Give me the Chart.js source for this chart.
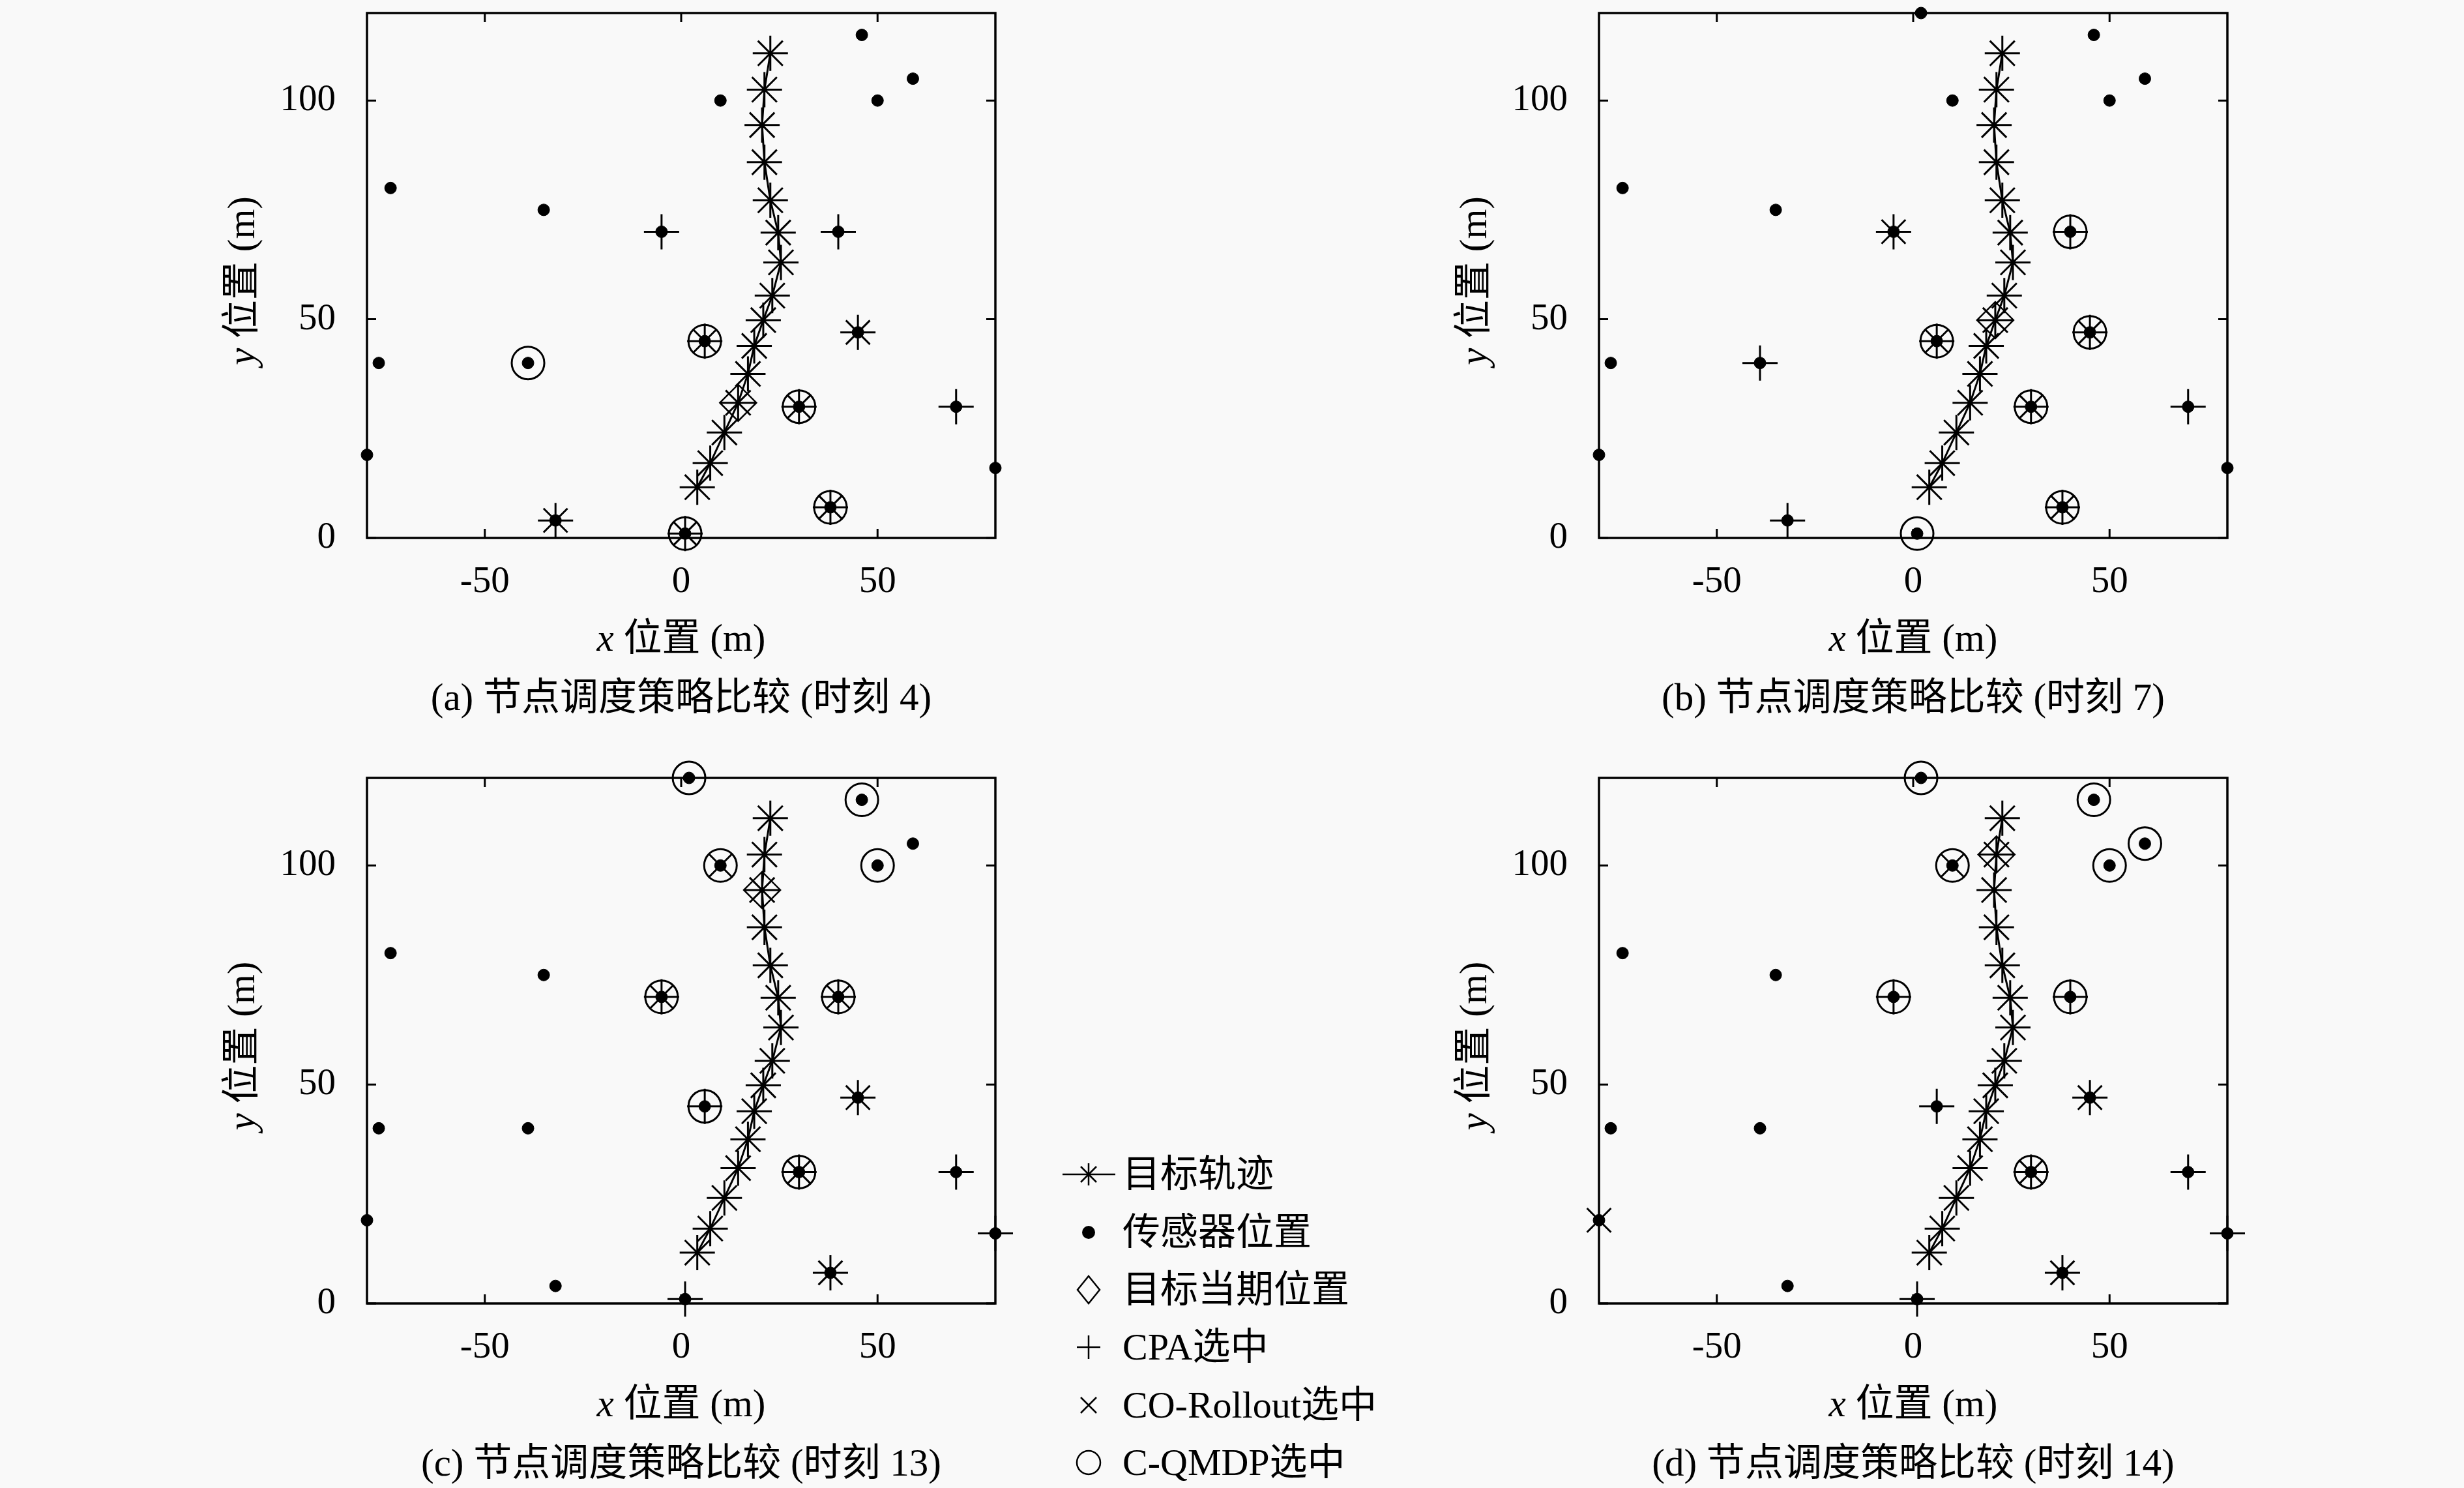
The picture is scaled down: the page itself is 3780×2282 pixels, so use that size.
<!DOCTYPE html>
<html>
<head>
<meta charset="utf-8">
<script src="https://cdn.jsdelivr.net/npm/chart.js@4.4.1/dist/chart.umd.min.js"></script>
<style>
  html, body { margin: 0; padding: 0; background: #f9f9f9; width: 3780px; height: 2282px; overflow: hidden; }
  .panel { position: absolute; width: 1304px; }
  #legendMarks { position: absolute; left: 1620px; top: 1750px; }
  .legText { position: absolute; left: 1722px; height: 70px; line-height: 70px; font-size: 58px; white-space: nowrap;
             font-family: 'Liberation Serif', 'Noto Sans CJK SC', serif; color: #000; }
</style>
</head>
<body>
<div class="panel" style="left:303px; top:0px; height:1108px;"><canvas id="chartA"></canvas></div>
<div class="panel" style="left:2193px; top:0px; height:1108px;"><canvas id="chartB"></canvas></div>
<div class="panel" style="left:303px; top:1143px; height:1139px;"><canvas id="chartC"></canvas></div>
<div class="panel" style="left:2193px; top:1143px; height:1139px;"><canvas id="chartD"></canvas></div>
<canvas id="legendMarks" width="110" height="532"></canvas>
<div id="legendTexts"></div>
<script>
const FONT = "'Liberation Serif', 'Noto Sans CJK SC', serif";

// sensor positions (m)
const sensorX = [2, 46, 59, 10, 50, -74, -35, -5, 40, 45, 6, -77, -39, 30, 70, -80, 80, 38, -32, 1];
const sensorY = [120, 115, 105, 100, 100, 80, 75, 70, 70, 47, 45, 40, 40, 30, 30, 19, 16, 7, 4, 1];

// target track (m)
const trackX = [4.1, 7.4, 11.0, 14.5, 17.0, 18.6, 20.9, 23.2, 25.4, 24.7, 22.7, 21.2, 20.6, 21.2, 22.7];
const trackY = [11.6, 17.1, 24.1, 30.9, 37.5, 43.9, 49.8, 55.4, 63.0, 69.8, 77.2, 85.9, 94.4, 102.5, 110.8];

const xTicks = [-50, 0, 50];
const yTicks = [0, 50, 100];

// time steps of the four panels
const steps = [4, 7, 13, 14];

// sensor indices drawn / selected in each panel
const shownA = [1, 2, 3, 4, 5, 6, 7, 8, 9, 10, 11, 12, 13, 14, 15, 16, 17, 18, 19];
const shownAll = [0, 1, 2, 3, 4, 5, 6, 7, 8, 9, 10, 11, 12, 13, 14, 15, 16, 17, 18, 19];

const cpaA = [7, 8, 9, 10, 13, 14, 17, 18, 19];
const coA = [9, 10, 13, 17, 18, 19];
const qmdpA = [10, 12, 13, 17, 19];

const cpaB = [7, 8, 9, 10, 12, 13, 14, 17, 18];
const coB = [7, 9, 10, 13, 17];
const qmdpB = [8, 9, 10, 13, 17, 19];

const cpaC = [7, 8, 9, 10, 13, 14, 16, 17, 19];
const coC = [3, 7, 8, 9, 13, 17];
const qmdpC = [0, 1, 3, 4, 7, 8, 10, 13];

const cpaD = [7, 8, 9, 10, 13, 14, 16, 17, 19];
const coD = [3, 9, 13, 15, 17];
const qmdpD = [0, 1, 2, 3, 4, 7, 8, 13];

const legendLabels = ['目标轨迹', '传感器位置', '目标当期位置', 'CPA选中', 'CO-Rollout选中', 'C-QMDP选中'];

// frame with inward ticks on all four sides
const framePlugin = {
  id: 'frame',
  beforeDatasetsDraw(chart) {
    const { ctx, chartArea: a, scales: { x, y } } = chart;
    ctx.save();
    ctx.strokeStyle = '#000';
    ctx.lineWidth = 3.5;
    ctx.strokeRect(a.left, a.top, a.right - a.left, a.bottom - a.top);
    ctx.lineWidth = 3;
    ctx.beginPath();
    xTicks.forEach(v => {
      const px = x.getPixelForValue(v);
      ctx.moveTo(px, a.bottom); ctx.lineTo(px, a.bottom - 14);
      ctx.moveTo(px, a.top); ctx.lineTo(px, a.top + 14);
    });
    yTicks.forEach(v => {
      const py = y.getPixelForValue(v);
      ctx.moveTo(a.left, py); ctx.lineTo(a.left + 14, py);
      ctx.moveTo(a.right, py); ctx.lineTo(a.right - 14, py);
    });
    ctx.stroke();
    ctx.restore();
  }
};

function drawMixed(ctx, parts, cx, cy) {
  const fonts = parts.map(p => (p.italic ? 'italic ' : '') + '59px ' + FONT);
  let total = 0;
  const widths = parts.map((p, i) => { ctx.font = fonts[i]; const w = ctx.measureText(p.t).width; total += w; return w; });
  let x = cx - total / 2;
  ctx.textBaseline = 'middle';
  ctx.textAlign = 'left';
  parts.forEach((p, i) => { ctx.font = fonts[i]; ctx.fillText(p.t, x, cy); x += widths[i]; });
}

// axis titles and panel caption
const textPlugin = {
  id: 'panelText',
  afterDraw(chart, args, opts) {
    const { ctx, chartArea: a } = chart;
    const cx = (a.left + a.right) / 2;
    ctx.save();
    ctx.fillStyle = '#000';
    drawMixed(ctx, [{ t: 'x', italic: true }, { t: ' 位置 (m)' }], cx, a.bottom + 157);
    drawMixed(ctx, [{ t: '(' + opts.letter + ') 节点调度策略比较 (时刻 ' + opts.step + ')' }], cx, a.bottom + 248);
    ctx.translate(a.left - 189, (a.top + a.bottom) / 2 + 8);
    ctx.rotate(-Math.PI / 2);
    drawMixed(ctx, [{ t: 'y', italic: true }, { t: ' 位置 (m)' }], 0, 0);
    ctx.restore();
  }
};

function makePanel(canvasId, topPad, letter, step, shown, cpa, co, qmdp) {
  const cur = step - 1;
  const toPts = idx => idx.map(i => ({ x: sensorX[i], y: sensorY[i] }));
  const stroke = { pointBorderColor: '#000', pointBackgroundColor: 'rgba(0,0,0,0)', clip: false };
  new Chart(document.getElementById(canvasId), {
    type: 'scatter',
    data: {
      datasets: [
        Object.assign({ data: trackX.map((x, i) => ({ x, y: trackY[i] })), showLine: true,
          borderColor: '#000', borderWidth: 3, pointStyle: 'star', pointRadius: 27, pointBorderWidth: 3 }, stroke),
        { data: toPts(shown), pointStyle: 'circle', pointRadius: 9, pointBackgroundColor: '#000',
          pointBorderColor: '#000', pointBorderWidth: 1, clip: false },
        Object.assign({ data: [{ x: trackX[cur], y: trackY[cur] }], pointStyle: 'rectRot', pointRadius: 28, pointBorderWidth: 2.5 }, stroke),
        Object.assign({ data: toPts(cpa), pointStyle: 'cross', pointRadius: 27, pointBorderWidth: 3 }, stroke),
        Object.assign({ data: toPts(co), pointStyle: 'crossRot', pointRadius: 26, pointBorderWidth: 3 }, stroke),
        Object.assign({ data: toPts(qmdp), pointStyle: 'circle', pointRadius: 25, pointBorderWidth: 3 }, stroke)
      ]
    },
    options: {
      responsive: true,
      maintainAspectRatio: false,
      animation: false,
      events: [],
      layout: { autoPadding: false, padding: { left: 0, top: topPad, right: 80, bottom: 0 } },
      plugins: {
        legend: { display: false },
        tooltip: { enabled: false },
        panelText: { letter: letter, step: step }
      },
      scales: {
        x: {
          type: 'linear', min: -80, max: 80,
          grid: { display: false, drawTicks: false },
          border: { display: false },
          ticks: { color: '#000', font: { family: FONT, size: 57 }, padding: 34, maxRotation: 0, autoSkip: false },
          afterBuildTicks: s => { s.ticks = xTicks.map(v => ({ value: v })); },
          afterFit: s => { s.height = 283; s.paddingLeft = 0; s.paddingRight = 0; }
        },
        y: {
          type: 'linear', min: 0, max: 120,
          grid: { display: false, drawTicks: false },
          border: { display: false },
          ticks: { color: '#000', font: { family: FONT, size: 57 }, padding: 48, autoSkip: false },
          afterBuildTicks: s => { s.ticks = yTicks.map(v => ({ value: v })); },
          afterFit: s => { s.width = 260; s.paddingTop = 0; s.paddingBottom = 0; }
        }
      }
    },
    plugins: [framePlugin, textPlugin]
  });
}

makePanel('chartA', 20, 'a', steps[0], shownA, cpaA, coA, qmdpA);
makePanel('chartB', 20, 'b', steps[1], shownAll, cpaB, coB, qmdpB);
makePanel('chartC', 50, 'c', steps[2], shownAll, cpaC, coC, qmdpC);
makePanel('chartD', 50, 'd', steps[3], shownAll, cpaD, coD, qmdpD);

// legend: symbols on a small canvas, labels as text
(function () {
  const rowY = [51, 140, 228, 316, 405, 493];
  const ctx = document.getElementById('legendMarks').getContext('2d');
  ctx.strokeStyle = '#000';
  ctx.fillStyle = '#000';
  ctx.lineWidth = 2.5;
  const cx = 50;
  // track: line + asterisk
  ctx.beginPath();
  ctx.moveTo(10, rowY[0]); ctx.lineTo(91, rowY[0]);
  ctx.moveTo(cx, rowY[0] - 17); ctx.lineTo(cx, rowY[0] + 17);
  const d = 12;
  ctx.moveTo(cx - d, rowY[0] - d); ctx.lineTo(cx + d, rowY[0] + d);
  ctx.moveTo(cx - d, rowY[0] + d); ctx.lineTo(cx + d, rowY[0] - d);
  ctx.stroke();
  // sensor dot
  ctx.beginPath(); ctx.arc(cx, rowY[1], 10, 0, Math.PI * 2); ctx.fill();
  // diamond
  ctx.beginPath();
  ctx.moveTo(cx, rowY[2] - 21); ctx.lineTo(cx + 17, rowY[2]); ctx.lineTo(cx, rowY[2] + 21); ctx.lineTo(cx - 17, rowY[2]);
  ctx.closePath(); ctx.stroke();
  // plus
  ctx.beginPath();
  ctx.moveTo(cx - 18, rowY[3]); ctx.lineTo(cx + 18, rowY[3]);
  ctx.moveTo(cx, rowY[3] - 18); ctx.lineTo(cx, rowY[3] + 18);
  ctx.stroke();
  // cross
  ctx.beginPath();
  ctx.moveTo(cx - 12, rowY[4] - 12); ctx.lineTo(cx + 12, rowY[4] + 12);
  ctx.moveTo(cx - 12, rowY[4] + 12); ctx.lineTo(cx + 12, rowY[4] - 12);
  ctx.stroke();
  // circle
  ctx.beginPath(); ctx.arc(cx, rowY[5], 18, 0, Math.PI * 2); ctx.stroke();

  const holder = document.getElementById('legendTexts');
  legendLabels.forEach((t, i) => {
    const el = document.createElement('div');
    el.className = 'legText';
    el.style.top = (1750 + rowY[i] - 35) + 'px';
    el.textContent = t;
    holder.appendChild(el);
  });
})();
</script>
</body>
</html>
